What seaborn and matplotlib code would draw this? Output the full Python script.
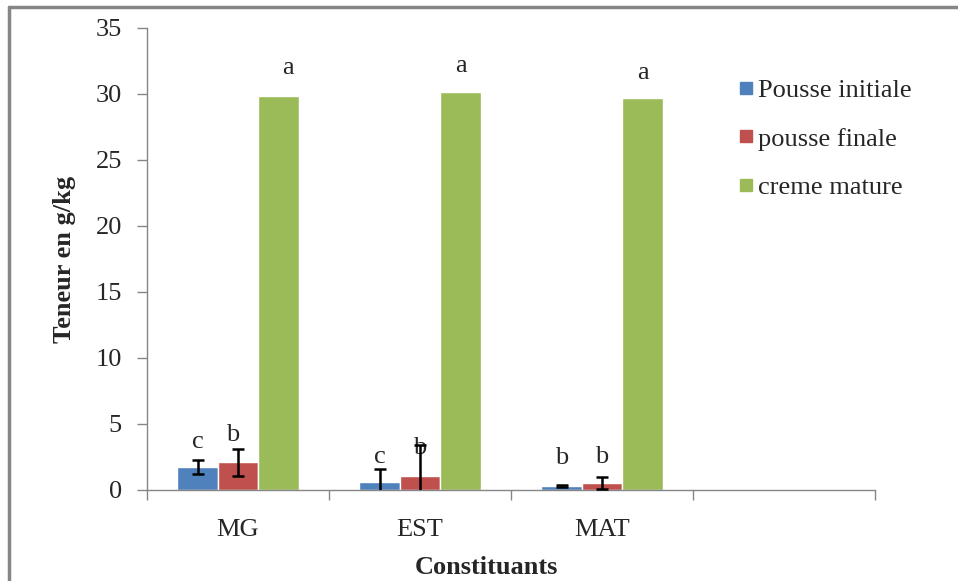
import matplotlib
matplotlib.use('Agg')
import matplotlib.pyplot as plt
from matplotlib.lines import Line2D
import seaborn as sns
import pandas as pd
import numpy as np

# ---- data ----
categories = ['MG', 'EST', 'MAT']
series = ['Pousse initiale', 'pousse finale', 'creme mature']
pousse_initiale = [1.77, 0.63, 0.30]
pousse_finale = [2.10, 1.08, 0.50]
creme_mature = [29.85, 30.15, 29.70]
err_initiale = [0.53, 0.96, 0.05]
err_finale = [1.04, 2.30, 0.45]
letters_initiale = ['c', 'c', 'b']
letters_finale = ['b', 'b', 'b']
letters_creme = ['a', 'a', 'a']
yticks = [0, 5, 10, 15, 20, 25, 30, 35]

# label heights (styling)
label_y_initiale = [3.65, 2.5, 2.4]
label_y_finale = [4.15, 3.2, 2.5]
label_y_creme = [32.0, 32.1, 31.6]
label_dx = [[0, 0, 0], [-0.03, 0, 0], [0.05, 0, 0]]

colors = ['#4F81BD', '#C0504D', '#9BBB59']
FS = 19

values = [pousse_initiale, pousse_finale, creme_mature]
errs = [err_initiale, err_finale, None]
letters = [letters_initiale, letters_finale, letters_creme]
label_ys = [label_y_initiale, label_y_finale, label_y_creme]

rows = []
for s, vals in zip(series, values):
    for c, v in zip(categories, vals):
        rows.append({'cat': c, 'serie': s, 'val': v})
df = pd.DataFrame(rows)

sns.set_style('white')
plt.rcParams['font.family'] = ['Liberation Serif', 'DejaVu Serif']

fig = plt.figure(figsize=(9.58, 5.81), dpi=100)
ax = fig.add_axes([147 / 958, 1 - 490 / 581, 728 / 958, 462 / 581])

sns.barplot(data=df, x='cat', y='val', hue='serie', order=categories,
            hue_order=series, palette=colors, width=0.667, gap=0,
            errorbar=None, saturation=1, ax=ax, legend=False)

ax.set_xlim(-0.5, 3.5)
ax.set_ylim(0, 35)
ax.set_yticks(yticks)
ax.set_yticklabels([str(t) for t in yticks], fontsize=FS)

# error bars and letters
bar_containers = list(ax.containers)
for j, cont in enumerate(bar_containers):
    xs = [b.get_x() + b.get_width() / 2 for b in cont.patches]
    hs = [b.get_height() for b in cont.patches]
    if errs[j] is not None:
        ax.errorbar(xs, hs, yerr=errs[j], fmt='none', ecolor='black',
                    elinewidth=1.8, capsize=4.3, capthick=1.8, zorder=5)
    for i, (x, lab) in enumerate(zip(xs, letters[j])):
        ax.text(x + label_dx[j][i], label_ys[j][i], lab, ha='center',
                va='center', fontsize=FS)

# x ticks: labels at centres, tick marks at boundaries
ax.set_xticks([0, 1, 2])
ax.set_xticklabels(categories, fontsize=FS)
ax.set_xticks([-0.5, 0.5, 1.5, 2.5, 3.5], minor=True)
ax.tick_params(axis='x', which='major', length=0, pad=21)
ax.tick_params(axis='x', which='minor', length=7, width=1, color='#868686',
               direction='out', bottom=True)
ax.tick_params(axis='y', length=7, width=1, color='#868686',
               direction='out', left=True, pad=11)

for side in ['top', 'right']:
    ax.spines[side].set_visible(False)
for side in ['left', 'bottom']:
    ax.spines[side].set_color('#868686')
    ax.spines[side].set_linewidth(1)

ax.set_xlabel('Constituants', fontsize=FS, fontweight='bold')
ax.set_ylabel('Teneur en g/kg', fontsize=FS, fontweight='bold')
ax.xaxis.set_label_coords((486 - 147) / 728, (490 - 556) / 462)
ax.yaxis.set_label_coords((76 - 147) / 728, 0.5)

# legend
handles = [Line2D([0], [0], marker='s', linestyle='none', markersize=8,
                  markerfacecolor=c, markeredgecolor=c) for c in colors]
fig.legend(handles, series, loc='upper left',
           bbox_to_anchor=(728 / 958, 1 - 68 / 581), frameon=False,
           fontsize=FS, labelspacing=0.95, handlelength=0.6,
           handletextpad=0.15, borderaxespad=0)

# outer chart border
fig.add_artist(Line2D([9 / 958, 1.0], [1 - 7 / 581, 1 - 7 / 581],
                      transform=fig.transFigure, color='#868686', lw=2.5))
fig.add_artist(Line2D([9 / 958, 9 / 958], [0.0, 1 - 7 / 581],
                      transform=fig.transFigure, color='#868686', lw=2.5))

fig.savefig('out.png', dpi=100)
